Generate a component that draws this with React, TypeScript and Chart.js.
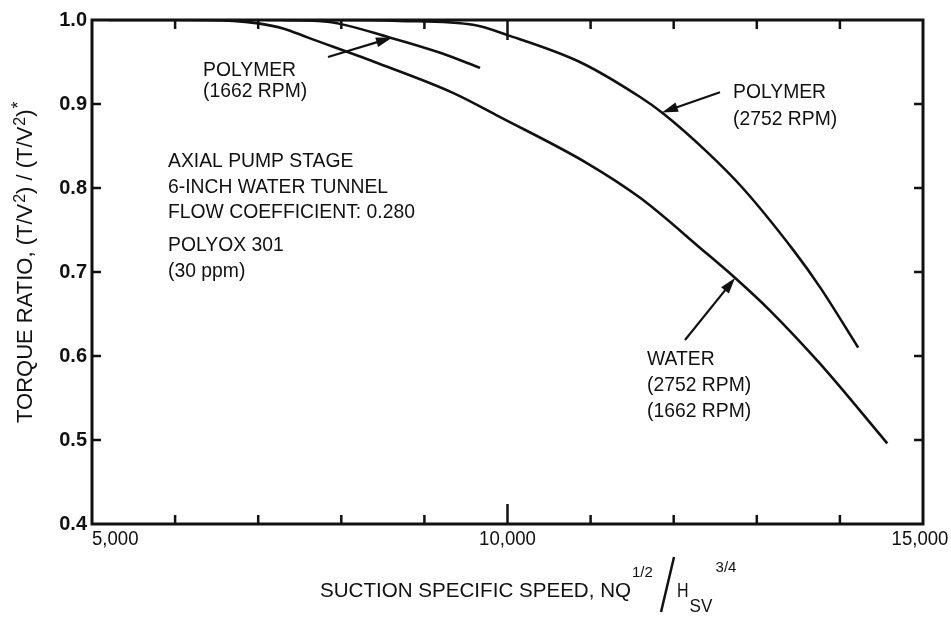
import React, { useEffect, useRef } from 'react';
import { Chart, registerables } from 'chart.js';

Chart.register(...registerables);

// ---- data ----
const waterX = [5200, 6000, 6700, 7000, 7300, 7600, 8400, 9350, 9900, 10950, 11600, 12350, 12750, 13150, 13750, 14570];
const waterY = [1.0, 1.0, 0.999, 0.996, 0.99, 0.979, 0.95, 0.913, 0.885, 0.83, 0.788, 0.726, 0.692, 0.655, 0.592, 0.496];

const poly2752X = [7100, 8000, 8700, 9600, 10000, 10870, 11600, 11870, 12400, 12830, 13440, 13760, 14220];
const poly2752Y = [1.0, 1.0, 0.999, 0.994, 0.982, 0.95, 0.908, 0.889, 0.843, 0.8, 0.726, 0.682, 0.61];

const poly1662X = [7300, 7830, 8590, 9190, 9670];
const poly1662Y = [1.0, 0.998, 0.979, 0.961, 0.943];

const xTickValues = [5000, 10000, 15000];
const xTickLabels = ['5,000', '10,000', '15,000'];
const xMinorTicks = [6000, 7000, 8000, 9000, 10000, 11000, 12000, 13000, 14000];
const yMinorTicks = [0.5, 0.6, 0.7, 0.8, 0.9];

const noteTexts = [
  ['POLYMER', '(1662 RPM)'],
  ['AXIAL PUMP STAGE', '6-INCH WATER TUNNEL', 'FLOW COEFFICIENT: 0.280'],
  ['POLYOX 301', '(30 ppm)'],
  ['POLYMER', '(2752 RPM)'],
  ['WATER', '(2752 RPM)', '(1662 RPM)'],
];
// anchor of each note (data units: x value, y value of first baseline)
const noteAnchorX = [6336, 5915, 5915, 12714, 11679];
const noteAnchorY = [0.933, 0.825, 0.725, 0.907, 0.589];
const noteGap = [21, 25.5, 26, 27, 26];

// arrows: tail -> tip (data units)
const arrowTailX = [7840, 12557, 12136];
const arrowTailY = [0.956, 0.914, 0.619];
const arrowTipX = [8610, 11859, 12738];
const arrowTipY = [0.979, 0.89, 0.693];

const FONT = '"Liberation Sans", Arial, Helvetica, sans-serif';
const INK = '#111';

function drawText(
  ctx: CanvasRenderingContext2D,
  s: string,
  x: number,
  y: number,
  size: number,
  sx = 0.92,
  align: CanvasTextAlign = 'left',
  weight = 'normal'
) {
  ctx.save();
  ctx.translate(x, y);
  ctx.scale(sx, 1);
  ctx.font = `${weight} ${size}px ${FONT}`;
  ctx.textAlign = align;
  ctx.textBaseline = 'alphabetic';
  ctx.fillStyle = INK;
  ctx.fillText(s, 0, 0);
  const w = ctx.measureText(s).width * sx;
  ctx.restore();
  return w;
}

function drawArrow(ctx: CanvasRenderingContext2D, x0: number, y0: number, x1: number, y1: number) {
  const ang = Math.atan2(y1 - y0, x1 - x0);
  const hl = 16;
  const hw = 5;
  ctx.save();
  ctx.strokeStyle = INK;
  ctx.fillStyle = INK;
  ctx.lineWidth = 2.2;
  ctx.beginPath();
  ctx.moveTo(x0, y0);
  ctx.lineTo(x1 - Math.cos(ang) * hl * 0.8, y1 - Math.sin(ang) * hl * 0.8);
  ctx.stroke();
  ctx.beginPath();
  ctx.moveTo(x1, y1);
  ctx.lineTo(x1 - Math.cos(ang) * hl - Math.sin(ang) * hw, y1 - Math.sin(ang) * hl + Math.cos(ang) * hw);
  ctx.lineTo(x1 - Math.cos(ang) * hl + Math.sin(ang) * hw, y1 - Math.sin(ang) * hl - Math.cos(ang) * hw);
  ctx.closePath();
  ctx.fill();
  ctx.restore();
}

const decorPlugin = {
  id: 'decor',
  afterDatasetsDraw(chart: any) {
    const ctx: CanvasRenderingContext2D = chart.ctx;
    const { left, right, top, bottom } = chart.chartArea;
    const xs = chart.scales.x;
    const ys = chart.scales.y;

    ctx.save();
    // frame
    ctx.strokeStyle = INK;
    ctx.lineWidth = 3;
    ctx.strokeRect(left, top, right - left, bottom - top);

    // inward ticks
    ctx.lineWidth = 2.5;
    ctx.beginPath();
    xMinorTicks.forEach((v) => {
      const px = xs.getPixelForValue(v);
      const len = v === 10000 ? 20 : 9;
      ctx.moveTo(px, bottom);
      ctx.lineTo(px, bottom - len);
      ctx.moveTo(px, top);
      ctx.lineTo(px, top + len);
    });
    yMinorTicks.forEach((v) => {
      const py = ys.getPixelForValue(v);
      ctx.moveTo(left, py);
      ctx.lineTo(left + 9, py);
      ctx.moveTo(right, py);
      ctx.lineTo(right - 9, py);
    });
    ctx.stroke();

    // x tick labels
    xTickValues.forEach((v, i) => {
      const px = xs.getPixelForValue(v);
      const align: CanvasTextAlign = i === 0 ? 'left' : 'center';
      drawText(ctx, xTickLabels[i], i === xTickValues.length - 1 ? px - 3 : px, bottom + 21, 20, 0.93, align);
    });

    // notes
    noteTexts.forEach((lines, i) => {
      const px = xs.getPixelForValue(noteAnchorX[i]);
      const py = ys.getPixelForValue(noteAnchorY[i]);
      lines.forEach((ln, j) => drawText(ctx, ln, px, py + j * noteGap[i], 21, 0.92));
    });

    // arrows
    arrowTailX.forEach((_, i) => {
      drawArrow(
        ctx,
        xs.getPixelForValue(arrowTailX[i]),
        ys.getPixelForValue(arrowTailY[i]),
        xs.getPixelForValue(arrowTipX[i]),
        ys.getPixelForValue(arrowTipY[i])
      );
    });

    // x axis title
    const bx = left + 228;
    const by = bottom + 73;
    let cx = bx;
    cx += drawText(ctx, 'SUCTION SPECIFIC SPEED, NQ', cx, by, 21, 0.98);
    drawText(ctx, '1/2', cx + 1, by - 20, 15, 1);
    ctx.lineWidth = 2.5;
    ctx.beginPath();
    ctx.moveTo(cx + 30, by + 15);
    ctx.lineTo(cx + 43, by - 40);
    ctx.stroke();
    cx += 46;
    cx += drawText(ctx, 'H', cx, by, 20, 0.8);
    drawText(ctx, 'SV', cx + 1, by + 15, 19, 0.9);
    drawText(ctx, '3/4', cx + 27, by - 25, 15, 1);

    // y axis title (rotated)
    ctx.save();
    ctx.translate(left - 60, top + 403);
    ctx.rotate(-Math.PI / 2);
    let tx = 0;
    tx += drawText(ctx, 'TORQUE RATIO, (T/V', tx, 0, 22, 1);
    tx += drawText(ctx, '2', tx + 1, -7, 16, 1) + 1;
    tx += drawText(ctx, ') / (T/V', tx, 0, 22, 1);
    tx += drawText(ctx, '2', tx + 1, -7, 16, 1) + 1;
    tx += drawText(ctx, ')', tx, 0, 22, 1);
    drawText(ctx, '*', tx + 1, -8, 18, 1);
    ctx.restore();

    ctx.restore();
  },
};

function series(xv: number[], yv: number[]) {
  return xv.map((x, i) => ({ x, y: yv[i] }));
}

export default function App() {
  const ref = useRef<HTMLCanvasElement | null>(null);

  useEffect(() => {
    if (!ref.current) return;
    const line = {
      showLine: true,
      borderColor: INK,
      borderWidth: 2.6,
      pointRadius: 0,
      fill: false,
      cubicInterpolationMode: 'monotone' as const,
    };
    const chart = new Chart(ref.current, {
      type: 'scatter',
      data: {
        datasets: [
          { label: 'Water (2752 / 1662 RPM)', data: series(waterX, waterY), ...line },
          { label: 'Polymer (2752 RPM)', data: series(poly2752X, poly2752Y), ...line },
          { label: 'Polymer (1662 RPM)', data: series(poly1662X, poly1662Y), ...line },
        ],
      },
      options: {
        animation: false,
        responsive: true,
        maintainAspectRatio: false,
        events: [],
        layout: { padding: { left: 0, top: 20, right: 28, bottom: 95 } },
        plugins: {
          legend: { display: false },
          tooltip: { enabled: false },
        },
        scales: {
          x: { type: 'linear', min: 5000, max: 15000, display: false },
          y: {
            type: 'linear',
            min: 0.4,
            max: 1.0,
            position: 'left',
            grid: { display: false, drawTicks: false },
            border: { display: false },
            ticks: {
              stepSize: 0.1,
              padding: 5,
              color: INK,
              font: { family: FONT, size: 20, weight: 'bold' },
              callback: (v: any) => Number(v).toFixed(1),
            },
            afterFit: (s: any) => {
              s.width = 92;
            },
          },
        },
      },
      plugins: [decorPlugin],
    });
    return () => chart.destroy();
  }, []);

  return (
    <div style={{ position: 'fixed', left: 0, top: 0, width: 951, height: 619, background: '#fff' }}>
      <canvas ref={ref} />
    </div>
  );
}
